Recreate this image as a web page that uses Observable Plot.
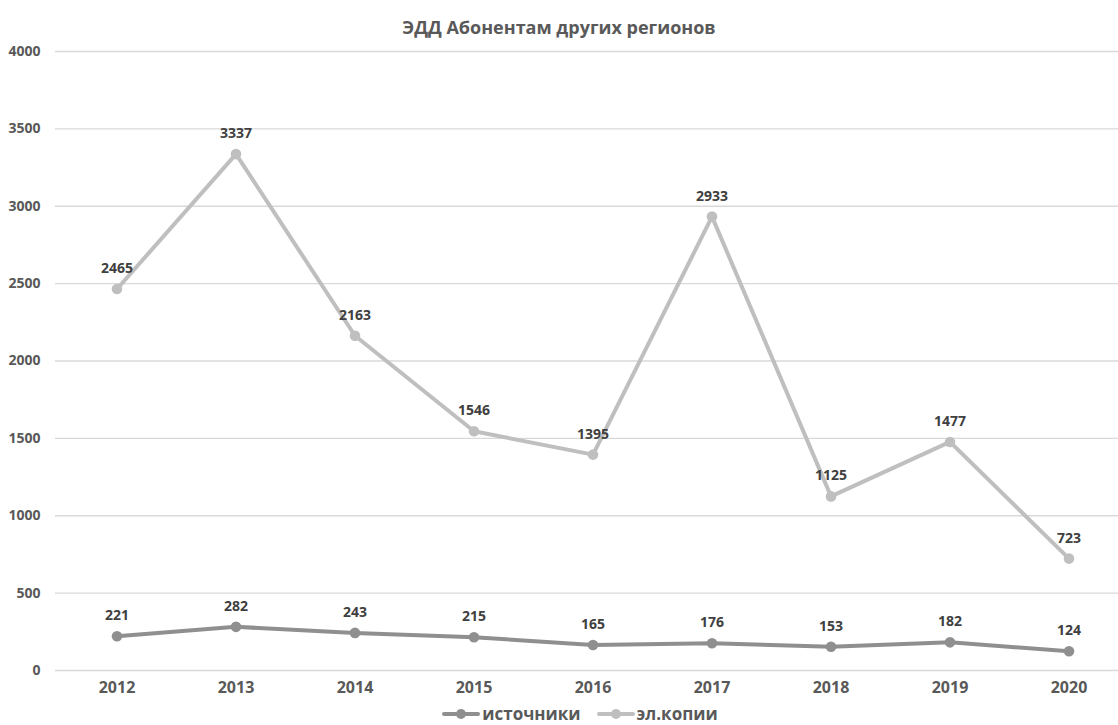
<!DOCTYPE html>
<html>
<head>
<meta charset="utf-8">
<script src="https://cdn.jsdelivr.net/npm/d3@7"></script>
<script src="https://cdn.jsdelivr.net/npm/@observablehq/plot@0.6"></script>
<style>
  body { margin: 0; background: #fff; font-family: "Open Sans", sans-serif; }
  #wrap { width: 1118px; height: 725px; position: relative; overflow: hidden; }
  #title { height: 40px; line-height: 54px; text-align: center; font-weight: 700; font-size: 18px; color: #595959; }
  #legend { position: absolute; left: 0; top: 702px; width: 1160px; height: 23px; line-height: 23px; display: flex; justify-content: center; align-items: center; gap: 16px; font-weight: 700; font-size: 17px; color: #595959; }
  .item { display: flex; align-items: center; gap: 2px; }
</style>
</head>
<body>
<div id="wrap">
  <div id="title">ЭДД Абонентам других регионов</div>
  <div id="chart"></div>
  <div id="legend"></div>
</div>
<script>
const years = ["2012","2013","2014","2015","2016","2017","2018","2019","2020"];
const sources = [221, 282, 243, 215, 165, 176, 153, 182, 124];
const copies = [2465, 3337, 2163, 1546, 1395, 2933, 1125, 1477, 723];
const seriesNames = ["источники", "эл.копии"];
const seriesColors = ["#8f8f8f", "#bfbfbf"];
const yTicks = [0, 500, 1000, 1500, 2000, 2500, 3000, 3500, 4000];

const data = [];
years.forEach((y, i) => {
  data.push({year: y, value: sources[i], series: seriesNames[0]});
  data.push({year: y, value: copies[i], series: seriesNames[1]});
});

const plot = Plot.plot({
  width: 1118,
  height: 660,
  marginTop: 11,
  marginBottom: 30,
  marginLeft: 55,
  marginRight: 0,
  style: { fontFamily: "Open Sans, sans-serif", color: "#595959", background: "#fff" },
  x: { type: "band", domain: years, range: [54.5, 1131], padding: 0, label: null },
  y: { domain: [0, 4000], label: null },
  color: { domain: seriesNames, range: seriesColors },
  marks: [
    Plot.gridY(yTicks, { stroke: "#d9d9d9", strokeOpacity: 1, strokeWidth: 1.3 }),
    Plot.axisY(yTicks, { tickSize: 0, tickPadding: 15, fontSize: 14, fontWeight: 700, fill: "#595959", label: null, tickFormat: d => String(d) }),
    Plot.axisX({ tickSize: 0, tickPadding: 11, fontSize: 16, fontWeight: 700, fill: "#595959", label: null }),
    Plot.line(data, { x: "year", y: "value", z: "series", stroke: "series", strokeWidth: 4, strokeLinejoin: "round", strokeLinecap: "round" }),
    Plot.dot(data, { x: "year", y: "value", fill: "series", r: 5.3, stroke: null }),
    Plot.text(data, { x: "year", y: "value", text: d => String(d.value), dy: -20.5, fontSize: 14, fontWeight: 700, fill: "#404040" })
  ]
});
document.getElementById("chart").appendChild(plot);

const legend = document.getElementById("legend");
seriesNames.forEach((name, i) => {
  const item = document.createElement("div");
  item.className = "item";
  item.innerHTML = `<svg width="38" height="12"><line x1="2" y1="6" x2="36" y2="6" stroke="${seriesColors[i]}" stroke-width="4" stroke-linecap="round"/><circle cx="19" cy="6" r="5" fill="${seriesColors[i]}"/></svg><span>${name}</span>`;
  legend.appendChild(item);
});
</script>
</body>
</html>
